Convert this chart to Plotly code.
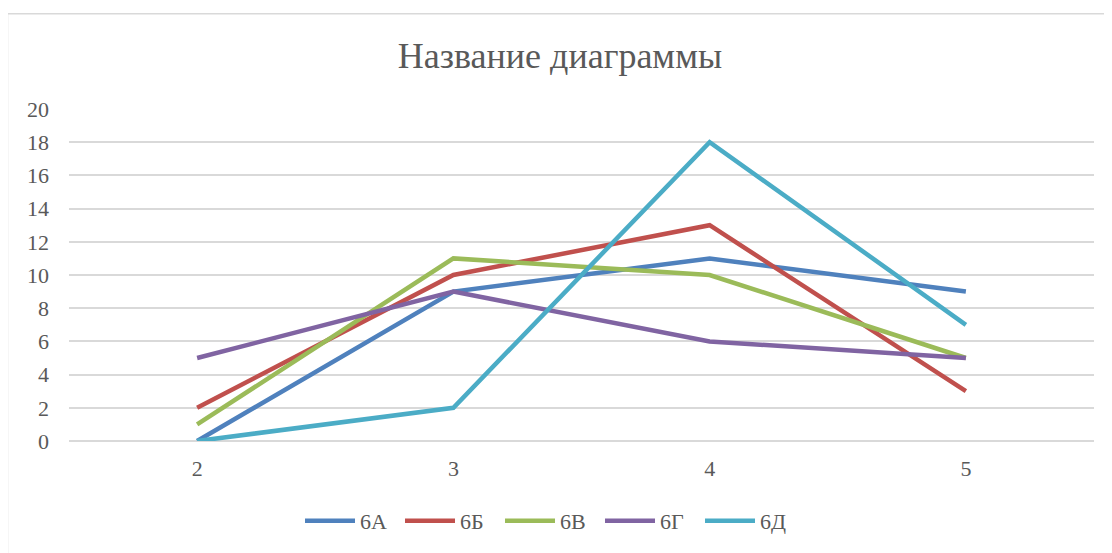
import plotly.graph_objects as go

categories = ["2", "3", "4", "5"]
series_names = ["6А", "6Б", "6В", "6Г", "6Д"]
s_6A = [0, 9, 11, 9]
s_6B = [2, 10, 13, 3]
s_6V = [1, 11, 10, 5]
s_6G = [5, 9, 6, 5]
s_6D = [0, 2, 18, 7]
series_values = [s_6A, s_6B, s_6V, s_6G, s_6D]
colors = ["#4F81BD", "#C0504D", "#9BBB59", "#8064A2", "#4BACC6"]
y_ticks = [0, 2, 4, 6, 8, 10, 12, 14, 16, 18, 20]

FONT = "Liberation Serif"
TXT = "#595959"
GRID = "#D9D9D9"

fig = go.Figure()
for name, vals, col in zip(series_names, series_values, colors):
    fig.add_trace(go.Scatter(
        x=categories, y=vals, name=name, mode="lines",
        line=dict(color=col, width=4.5),
    ))

# page body has an 8px margin; compensate
OFF = 8
W, H = 1112 - OFF, 553 - OFF
L, T = 69 - OFF, 109 - OFF
pw, ph = 1025, 333
R, B = W - L - pw, H - T - ph
AX0 = 442 - OFF

def px_x(x):
    return (x - OFF - L) / pw

def px_y(y):
    return (AX0 - (y - OFF)) / ph

fig.update_layout(
    width=W, height=H,
    margin=dict(l=L, r=R, t=T, b=B),
    paper_bgcolor="white", plot_bgcolor="white",
    font=dict(family=FONT, color=TXT, size=22),
    title=dict(text="Название диаграммы", font=dict(family=FONT, size=36, color=TXT),
               xref="container", x=(560 - OFF) / W, xanchor="center",
               yref="container", y=1 - (55 - OFF) / H, yanchor="middle"),
    showlegend=True,
    legend=dict(orientation="h", xref="paper", x=px_x(550), xanchor="center",
                yref="paper", y=px_y(521), yanchor="middle",
                font=dict(family=FONT, size=22, color=TXT), itemwidth=50,
                entrywidth=35, entrywidthmode="pixels",
                bgcolor="rgba(0,0,0,0)"),
    xaxis=dict(type="category", range=[-0.5, 3.5], showgrid=False, showline=False,
               zeroline=False, ticks="outside", ticklen=8, tickcolor="rgba(0,0,0,0)",
               tickfont=dict(family=FONT, size=22, color=TXT)),
    yaxis=dict(range=[0, 20], tickvals=y_ticks, showgrid=True, gridcolor=GRID, gridwidth=1.5,
               zeroline=True, zerolinecolor=GRID, zerolinewidth=1.5, showline=False,
               ticklabelstandoff=19, tickfont=dict(family=FONT, size=22, color=TXT)),
    shapes=[dict(type="rect", xref="paper", yref="paper",
                 x0=px_x(7.5), x1=px_x(1125),
                 y0=px_y(570), y1=px_y(13.5),
                 line=dict(color=GRID, width=1.5), fillcolor="rgba(0,0,0,0)", layer="below")],
)

fig.write_html("out.html")
